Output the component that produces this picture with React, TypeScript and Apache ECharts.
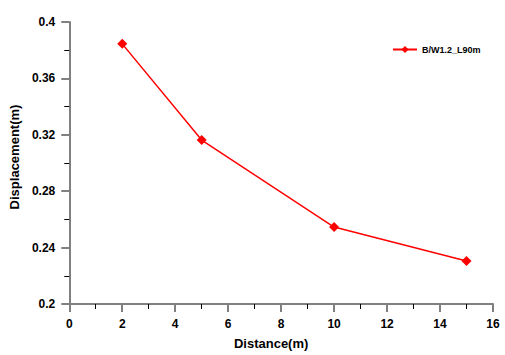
import React, { useEffect, useRef } from "react";
import * as echarts from "echarts";

const seriesName = "B/W1.2_L90m";
const distances = [2, 5, 10, 15];
const displacements = [0.3845, 0.3163, 0.2546, 0.2305];

export default function App() {
  const ref = useRef<HTMLDivElement>(null);
  useEffect(() => {
    if (!ref.current) return;
    const chart = echarts.init(ref.current, null, { renderer: "svg" });
    const font = "Liberation Sans, Arial, sans-serif";
    const axisCommon = {
      axisLine: { show: true, onZero: false, lineStyle: { color: "#808080", width: 2 } },
      axisTick: { show: true, inside: false, length: 8, lineStyle: { color: "#808080", width: 2 } },
      minorTick: { show: true, splitNumber: 2, length: 5, lineStyle: { color: "#000", width: 1 } },
      splitLine: { show: false },
      axisLabel: { color: "#000", fontWeight: "bold", fontSize: 12, fontFamily: font },
    };
    chart.setOption({
      animation: false,
      backgroundColor: "#fff",
      grid: { left: 67, right: 12, top: 22, bottom: 51, containLabel: false },
      legend: {
        left: 387,
        top: 40,
        itemWidth: 24,
        itemHeight: 9,
        textStyle: { color: "#000", fontWeight: "bold", fontSize: 9, fontFamily: font },
        data: [seriesName],
      },
      xAxis: {
        type: "value",
        min: 0,
        max: 16,
        interval: 2,
        name: "Distance(m)",
        nameLocation: "middle",
        nameGap: 33,
        nameTextStyle: { color: "#000", fontWeight: "bold", fontSize: 13, fontFamily: font, padding: [0, 20, 0, 0] },
        ...axisCommon,
        axisLabel: { ...axisCommon.axisLabel, margin: 14 },
      },
      yAxis: {
        type: "value",
        min: 0.2,
        max: 0.4,
        interval: 0.04,
        name: "Displacement(m)",
        nameLocation: "middle",
        nameGap: 45,
        nameTextStyle: { color: "#000", fontWeight: "bold", fontSize: 13, fontFamily: font, padding: [0, 0, 0, 12] },
        ...axisCommon,
        axisLabel: { ...axisCommon.axisLabel, margin: 14 },
      },
      series: [
        {
          name: seriesName,
          type: "line",
          data: distances.map((d, i) => [d, displacements[i]]),
          symbol: "diamond",
          symbolSize: 10,
          itemStyle: { color: "#ff0000" },
          lineStyle: { color: "#ff0000", width: 1.5 },
        },
      ],
    });
    return () => chart.dispose();
  }, []);
  return <div ref={ref} style={{ width: 505, height: 355, position: "absolute", left: 0, top: 0 }} />;
}
